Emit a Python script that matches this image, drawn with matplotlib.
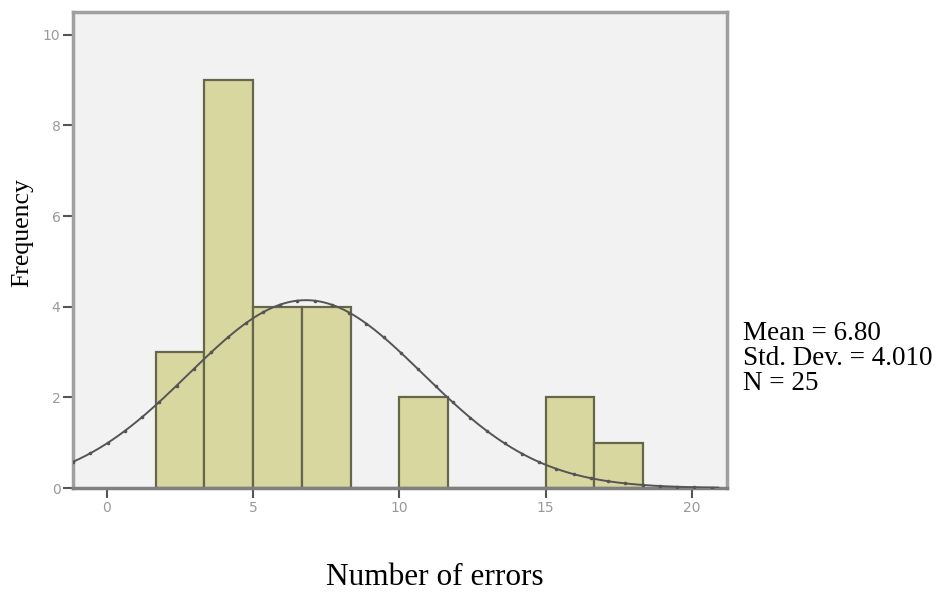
import numpy as np
import matplotlib.pyplot as plt

# histogram of errors (SPSS style)
bin_edges = [1.667, 3.333, 5.0, 6.667, 8.333, 10.0, 11.667, 13.333, 15.0, 16.667, 18.333]
counts = [3, 9, 4, 4, 0, 2, 0, 0, 2, 1]
mean, sd, n = 6.80, 4.010, 25
xticks = [0, 5, 10, 15, 20]
yticks = [0, 2, 4, 6, 8, 10]
stats_lines = [f'Mean = {mean:.2f}', f'Std. Dev. = {sd:.3f}', f'N = {n}']

serif = ['Liberation Serif', 'DejaVu Serif']

fig = plt.figure(figsize=(9.5, 5.92), dpi=100)
ax = fig.add_axes([73/950, 1-488/592, 654/950, 476/592])
ax.set_facecolor('#f2f2f2')

widths = np.diff(bin_edges)
ax.bar(bin_edges[:-1], counts, width=widths, align='edge',
       color='#d9d7a0', edgecolor='#66664d', linewidth=1.6, zorder=2)

# fitted normal curve
xlim = (-1.16, 21.2)
xs = np.linspace(xlim[0], 20.9, 300)
binw = widths[0]
ys = n * binw / (sd * np.sqrt(2 * np.pi)) * np.exp(-0.5 * ((xs - mean) / sd) ** 2)
ax.plot(xs, ys, color='#555555', lw=1.4, zorder=3)
ax.plot(xs[::8], ys[::8], ls='none', marker='o', ms=1.6, color='#555555', zorder=3)

ax.set_xlim(*xlim)
ax.set_ylim(0, 10.5)
ax.set_xticks(xticks)
ax.set_yticks(yticks)
ax.tick_params(direction='out', length=7, width=1.5, color='#555555',
               labelsize=10, labelcolor='#999999', pad=2)
for s in ax.spines.values():
    s.set_color('#a0a0a0')
    s.set_linewidth(2.5)
ax.spines['bottom'].set_color('#808080')

fig.text(22/950, 1-233/592, 'Frequency', family=serif, fontsize=18.5,
         rotation=90, ha='center', va='center')
fig.text(435/950, 7/592, 'Number of errors', family=serif, fontsize=22.5,
         ha='center', va='baseline')
for i, line in enumerate(stats_lines):
    fig.text(743/950, 1-(340+25*i)/592, line, family=serif, fontsize=19.5,
             ha='left', va='baseline')

fig.savefig('out.png', dpi=100, facecolor='white')
